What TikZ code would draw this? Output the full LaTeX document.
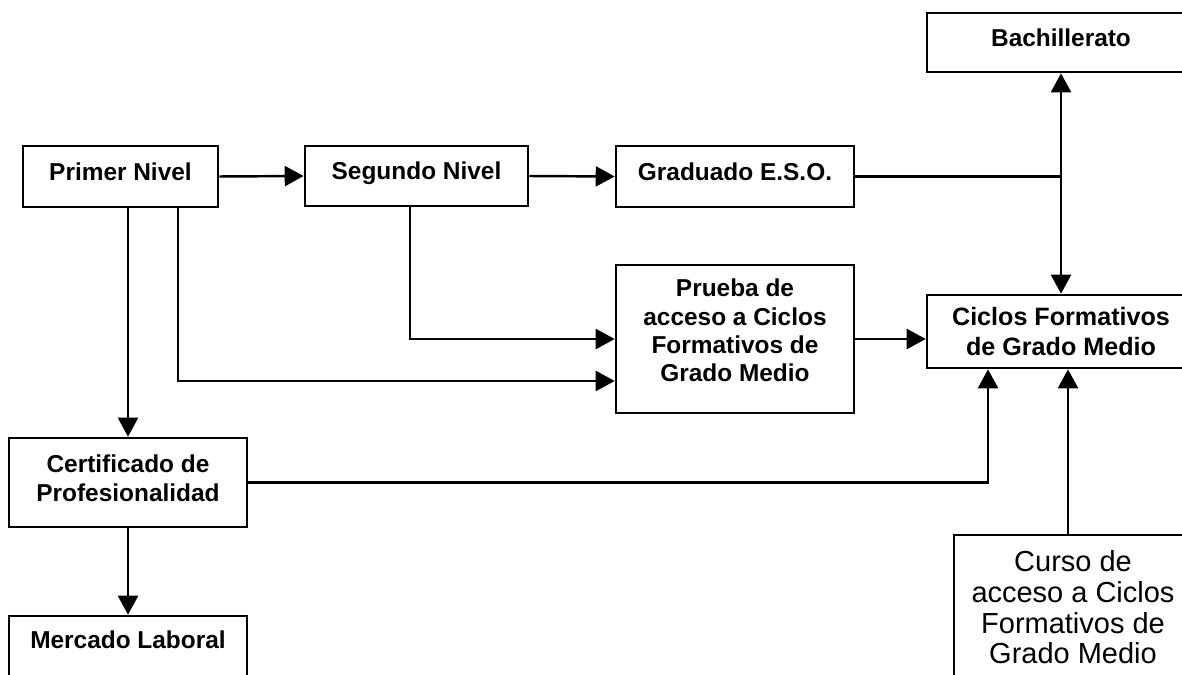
\documentclass[tikz,border=0pt]{standalone}
\usepackage{fontspec}
\setmainfont{Liberation Sans}
\usetikzlibrary{arrows.meta,positioning,calc}

\begin{document}
\begin{tikzpicture}[x = .02cm, y = -.02cm,
    box/.style = {draw, line width = 1.5pt, align = center, inner sep = 0pt, font = \bfseries\fontsize{13.9}{16}\selectfont},
    arr/.style = {line width = 1.4pt, -{Triangle[length = .38cm, width = .4cm]}},
    link/.style = {line width = 1.4pt}]
    \clip (0,0) rectangle (1182,675);
    \node[box, minimum width = 3.9cm, minimum height = 1.22cm, text depth = 6pt] (primer) at (120.5,176.5) {Primer Nivel};
    \node[box, minimum width = 4.46cm, minimum height = 1.2cm, text depth = 6pt] (segundo) at (416.5,176) {Segundo Nivel};
    \node[box, minimum width = 4.76cm, minimum height = 1.22cm, text depth = 6pt] (graduado) at (735,176.5) {Graduado E.S.O.};
    \node[box, minimum width = 5.36cm, minimum height = 1.18cm, text depth = 6pt] (bach) at (1061,42.5) {Bachillerato};
    \node[box, minimum width = 4.76cm, minimum height = 2.96cm, text depth = 10pt] (prueba) at (735,339) {Prueba de\\acceso a Ciclos\\Formativos de\\Grado Medio};
    \node[box, minimum width = 5.36cm, minimum height = 1.46cm, font = \bfseries\fontsize{14.3}{17}\selectfont] (ciclos) at (1061,331.5) {Ciclos Formativos\\de Grado Medio};
    \node[box, minimum width = 4.76cm, minimum height = 1.78cm, text depth = 5pt] (cert) at (128,482.5) {Certificado de\\Profesionalidad};
    \node[box, minimum width = 4.76cm, minimum height = 1.36cm, text depth = 12pt] (mercado) at (128,650) {Mercado Laboral};
    \node[box, minimum width = 4.76cm, minimum height = 2.9cm, font = \fontsize{16.5}{17.5}\selectfont] (curso) at (1073,607.5) {Curso de\\acceso a Ciclos\\Formativos de\\Grado Medio};

    \coordinate (split) at (bach.south |- graduado.east);
    \draw[arr] (primer.east) -- (segundo.west);
    \draw[arr] (segundo.east) -- (graduado.west);
    \draw[link] (graduado.east) -- (split);
    \draw[arr] (split) -- (bach.south);
    \draw[arr] (split) -- (split |- ciclos.north);
    \draw[arr] (cert.north |- primer.south) -- (cert.north);
    \draw[arr] ([xshift = 1.15cm]primer.south) |- ([yshift = -.84cm]prueba.west);
    \draw[arr] ([xshift = -.13cm]segundo.south) |- (prueba.west);
    \draw[arr] (prueba.east) -- (prueba.east -| ciclos.west);
    \draw[arr] (cert.east) -| ([xshift = -1.46cm]ciclos.south);
    \draw[arr] ([xshift = -.1cm]curso.north) -- ([xshift = -.1cm]curso.north |- ciclos.south);
    \draw[arr] (cert.south) -- (mercado.north);
\end{tikzpicture}
\end{document}
